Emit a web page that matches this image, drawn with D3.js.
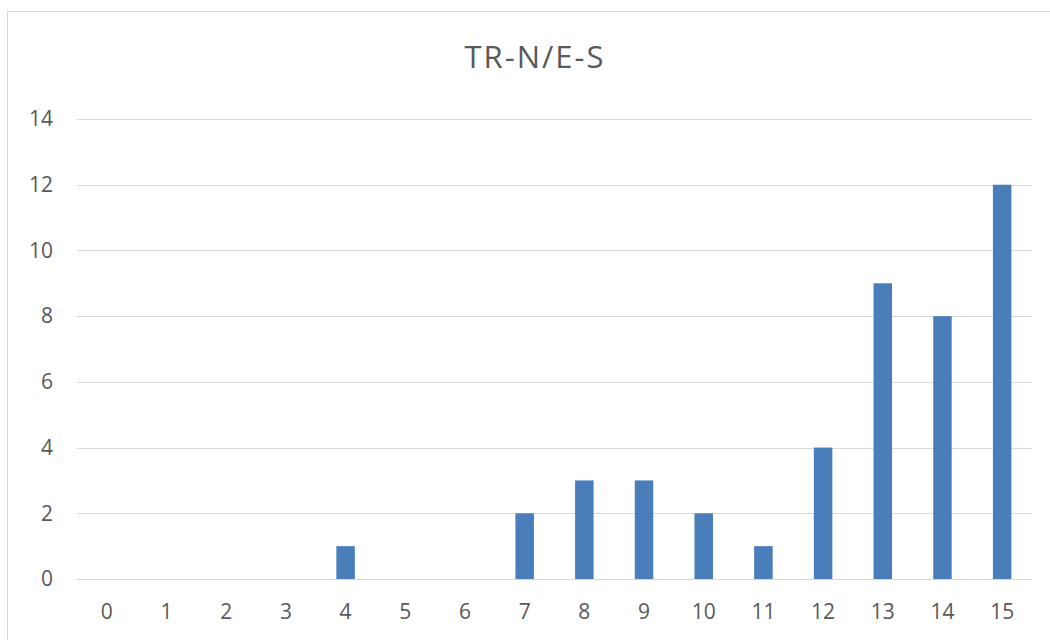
<!DOCTYPE html>
<html>
<head>
<meta charset="utf-8">
<script src="https://cdn.jsdelivr.net/npm/d3@7"></script>
<style>
  html, body { margin: 0; padding: 0; background: #ffffff; }
  svg { display: block; }
</style>
</head>
<body>
<svg id="chart" width="1050" height="640"></svg>
<script>
// Chart data
const categories = ["0","1","2","3","4","5","6","7","8","9","10","11","12","13","14","15"];
const values     = [0, 0, 0, 0, 1, 0, 0, 2, 3, 3, 2, 1, 4, 9, 8, 12];
const yTicks     = [0, 2, 4, 6, 8, 10, 12, 14];
const chartTitle = "TR-N/E-S";

const svg = d3.select("#chart");
const W = 1050, H = 640;
const plot = { left: 77, right: 1032, top: 119, bottom: 579 };
const font = "'Open Sans', 'Liberation Sans', sans-serif";
const textColor = "#595959";
const gridColor = "#d9d9d9";
const barColor = "#4a7ebb";

// Chart area frame
svg.append("rect")
  .attr("x", 7.5).attr("y", 11.5)
  .attr("width", W + 10).attr("height", H + 10)
  .attr("fill", "#ffffff")
  .attr("stroke", "#d9d9d9")
  .attr("stroke-width", 1);

const x = d3.scaleBand()
  .domain(categories)
  .range([plot.left, plot.right])
  .paddingInner(0.69)
  .paddingOuter(0.345);

const y = d3.scaleLinear()
  .domain([0, 14])
  .range([plot.bottom, plot.top]);

// Horizontal gridlines
svg.append("g")
  .selectAll("line")
  .data(yTicks)
  .join("line")
  .attr("x1", plot.left).attr("x2", plot.right)
  .attr("y1", d => Math.round(y(d)) + 0.5)
  .attr("y2", d => Math.round(y(d)) + 0.5)
  .attr("stroke", gridColor)
  .attr("stroke-width", 1);

// Y axis labels
const yAxis = d3.axisLeft(y).tickValues(yTicks).tickSize(0).tickPadding(0);
const gy = svg.append("g")
  .attr("transform", `translate(${53},0)`)
  .call(yAxis);
gy.select(".domain").remove();
gy.selectAll("text")
  .attr("fill", textColor)
  .style("font-family", font)
  .style("font-size", "21px");

// X axis labels
const xAxis = d3.axisBottom(x).tickSize(0).tickPadding(0);
const gx = svg.append("g")
  .attr("transform", `translate(0,${plot.bottom + 25})`)
  .call(xAxis);
gx.select(".domain").remove();
gx.selectAll("text")
  .attr("fill", textColor)
  .style("font-family", font)
  .style("font-size", "21px");

// Bars
svg.append("g")
  .selectAll("rect")
  .data(values)
  .join("rect")
  .attr("x", (d, i) => x(categories[i]))
  .attr("width", x.bandwidth())
  .attr("y", d => y(d))
  .attr("height", d => y(0) - y(d))
  .attr("fill", barColor);

// Title
svg.append("text")
  .attr("x", 535)
  .attr("y", 68)
  .attr("text-anchor", "middle")
  .attr("fill", textColor)
  .style("font-family", font)
  .style("font-size", "31px")
  .style("letter-spacing", "2px")
  .text(chartTitle);
</script>
</body>
</html>
